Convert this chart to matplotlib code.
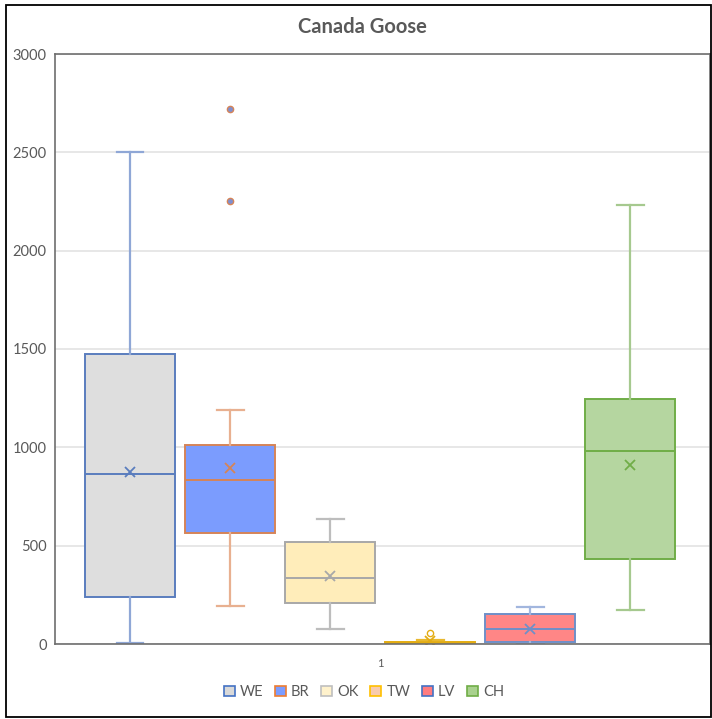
"""Canada Goose - Excel style box & whisker, rebuilt with matplotlib."""

import matplotlib
matplotlib.use("Agg")
import matplotlib.pyplot as plt
from matplotlib.patches import Patch, Rectangle

plt.rcParams["font.family"] = ["Lato", "DejaVu Sans"]

# summary stats per site
sites = ["WE", "BR", "OK", "TW", "LV", "CH"]
whis_lo = [5, 193, 76, 0, 0, 173]
q1 = [240, 565, 208, 2, 12, 432]
median = [864, 834, 336, 5, 76, 981]
q3 = [1475, 1012, 519, 10, 153, 1246]
whis_hi = [2502, 1190, 636, 18, 188, 2232]
mean = [875, 895, 346, 14, 78, 910]
fliers = [[], [2253, 2720], [], [57], [], []]

# styling
fills = ["#DEDEDE", "#7B9CFE", "#FFEDBA", "#F8CBAD", "#FF8686", "#B5D6A0"]
edges = ["#5A7DBE", "#D58458", "#A8A8A8", "#E3AC12", "#6F8FC8", "#70AD47"]
whisk = ["#8FA7D6", "#E8B090", "#BDBDBD", "#E8B830", "#A2B6DE", "#A6C98F"]
legend_edges = ["#4472C4", "#ED7D31", "#BFBFBF", "#FFC000", "#4472C4", "#70AD47"]
legend_fills = ["#D9D9D9", "#7C9CFF", "#FFF2CC", "#F8CBAD", "#FF7C80", "#A9D18E"]
text_col = "#595959"

positions = [-2.5, -1.5, -0.5, 0.5, 1.5, 2.5]

fig = plt.figure(figsize=(7.12, 7.19), dpi=100)
ax = fig.add_axes([55 / 712, 1 - 644 / 719, 655 / 712, 590 / 719])

for i in range(len(sites)):
    st = dict(whislo=whis_lo[i], q1=q1[i], med=median[i], q3=q3[i],
              whishi=whis_hi[i], mean=mean[i], fliers=fliers[i])
    fill = fills[i] if sites[i] != "TW" else "none"
    ax.bxp(
        [st], positions=[positions[i]], widths=0.9, capwidths=0.27,
        patch_artist=True, showmeans=True, manage_ticks=False,
        boxprops=dict(facecolor=fill, edgecolor=edges[i], linewidth=1.4),
        medianprops=dict(color=edges[i], linewidth=1.4),
        whiskerprops=dict(color=whisk[i], linewidth=1.6),
        capprops=dict(color=whisk[i], linewidth=1.6),
        meanprops=dict(marker="x", markeredgecolor=edges[i], markersize=7,
                       markeredgewidth=1.3),
        flierprops=dict(marker="o", markersize=4.5,
                        markerfacecolor="#7F8FD0" if sites[i] == "BR" else "white",
                        markeredgecolor=edges[i], markeredgewidth=1.0),
    )

ax.set_xlim(-3.25, 3.3)
ax.set_ylim(0, 3000)
ax.set_yticks(range(0, 3001, 500))
ax.set_xticks([0])
ax.set_xticklabels(["1"])
ax.tick_params(axis="both", length=0, colors=text_col)
ax.tick_params(axis="y", labelsize=10.5, pad=6)
ax.tick_params(axis="x", labelsize=8, pad=10)
ax.yaxis.grid(True, color="#E3E3E3", linewidth=1.2)
ax.set_axisbelow(True)
for s in ax.spines.values():
    s.set_color("#6E6E6E")
    s.set_linewidth(1.2)

fig.text(362 / 712, 1 - 27 / 719, "Canada Goose", ha="center", va="center",
         fontsize=14.5, fontweight="bold", color=text_col)

handles = [Patch(facecolor=legend_fills[i], edgecolor=legend_edges[i],
                 linewidth=1.2, label=sites[i]) for i in range(len(sites))]
leg = fig.legend(handles=handles, loc="center", ncol=6, frameon=False,
                 bbox_to_anchor=(364 / 712, 1 - 692 / 719), fontsize=10.5,
                 handlelength=0.75, handleheight=0.75, handletextpad=0.35,
                 columnspacing=0.8)
for t in leg.get_texts():
    t.set_color(text_col)

# chart area border
fig.patches.append(Rectangle((6 / 712, 1 - 717 / 719), 705 / 712, 712 / 719,
                             transform=fig.transFigure, fill=False,
                             edgecolor="black", linewidth=1.3))

fig.savefig("out.png", dpi=100)
